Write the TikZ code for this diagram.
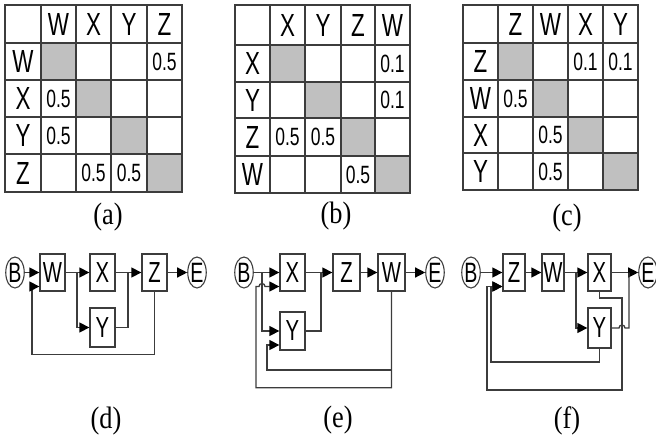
\documentclass[tikz,border=0pt]{standalone}
\usepackage{fontspec}
\setmainfont{Liberation Serif}
\newfontfamily\narrowsans[FakeStretch=0.7]{Liberation Sans}
\newfontfamily\capserif[FakeStretch=0.85]{Liberation Serif}
\usetikzlibrary{arrows.meta,shapes.geometric}
\definecolor{cellgray}{RGB}{192,192,192}
\definecolor{ink}{RGB}{60,60,60}
\begin{document}
\begin{tikzpicture}[x=1pt,y=-1pt,
  grid/.style={draw=ink,line width=1.3pt},
  hdr/.style={font=\narrowsans\fontsize{32}{32}\selectfont,inner sep=0pt},
  val/.style={font=\narrowsans\fontsize{25}{25}\selectfont,inner sep=0pt},
  figcap/.style={font=\capserif\fontsize{31}{31}\selectfont,inner sep=0pt},
  blk/.style={draw=ink,line width=1.3pt,rectangle,minimum width=25pt,
    minimum height=37pt,inner sep=0pt,font=\narrowsans\fontsize{29}{29}\selectfont},
  term/.style={draw=ink,line width=1.1pt,ellipse,minimum width=17pt,
    minimum height=31pt,inner sep=0pt,font=\narrowsans\fontsize{28}{28}\selectfont},
  wire/.style={draw=ink,line width=1.3pt},
  arr/.style={wire,-{Triangle[length=10pt,width=10pt,fill=black,color=black]}},
]
\useasboundingbox (0,0) rectangle (656,436);

% ---------- table (a) ----------
\foreach \xa/\ya/\xb/\yb in {41/43/76/80,76/80/111/117,111/117/147/154,147/154/182/192}
  \fill[cellgray] (\xa,\ya) rectangle (\xb,\yb);
\foreach \x in {41,76,111,147} \draw[grid] (\x,5) -- (\x,192);
\foreach \y in {43,80,117,154} \draw[grid] (5,\y) -- (182,\y);
\draw[grid] (5,5) rectangle (182,192);
\foreach \t/\cx [count=\i] in {W/58.5,X/93.5,Y/129,Z/164.5}
  \node[hdr] (ta-col\i) at (\cx,24) {\t};
\foreach \t/\cy [count=\i] in {W/61.5,X/98.5,Y/135.5,Z/173}
  \node[hdr] (ta-row\i) at (23,\cy) {\t};
\node[val] (ta-wz) at (164.5,61.5) {0.5};
\node[val] (ta-xw) at (58.5,98.5) {0.5};
\node[val] (ta-yw) at (58.5,135.5) {0.5};
\node[val] (ta-zx) at (93.5,173) {0.5};
\node[val] (ta-zy) at (129,173) {0.5};
\node[figcap] (cap-a) at (108,217) {(a)};

% ---------- table (b) ----------
\foreach \xa/\ya/\xb/\yb in {270/45/305/82,305/82/341/118,341/118/375/156,375/156/410/193}
  \fill[cellgray] (\xa,\ya) rectangle (\xb,\yb);
\foreach \x in {270,305,341,375} \draw[grid] (\x,5) -- (\x,193);
\foreach \y in {45,82,118,156} \draw[grid] (235,\y) -- (410,\y);
\draw[grid] (235,5) rectangle (410,193);
\foreach \t/\cx [count=\i] in {X/287.5,Y/323,Z/358,W/392.5}
  \node[hdr] (tb-col\i) at (\cx,25) {\t};
\foreach \t/\cy [count=\i] in {X/63.5,Y/100,Z/137,W/174.5}
  \node[hdr] (tb-row\i) at (252.5,\cy) {\t};
\node[val] (tb-xw) at (392.5,63.5) {0.1};
\node[val] (tb-yw) at (392.5,100) {0.1};
\node[val] (tb-zx) at (287.5,137) {0.5};
\node[val] (tb-zy) at (323,137) {0.5};
\node[val] (tb-wz) at (358,174.5) {0.5};
\node[figcap] (cap-b) at (336,216) {(b)};

% ---------- table (c) ----------
\foreach \xa/\ya/\xb/\yb in {498/43/533/80,533/80/568/117,568/117/603/153,603/153/638/190}
  \fill[cellgray] (\xa,\ya) rectangle (\xb,\yb);
\foreach \x in {498,533,568,603} \draw[grid] (\x,5) -- (\x,190);
\foreach \y in {43,80,117,153} \draw[grid] (463,\y) -- (638,\y);
\draw[grid] (463,5) rectangle (638,190);
\foreach \t/\cx [count=\i] in {Z/515.5,W/550.5,X/585.5,Y/620.5}
  \node[hdr] (tc-col\i) at (\cx,24) {\t};
\foreach \t/\cy [count=\i] in {Z/61.5,W/98.5,X/135,Y/171.5}
  \node[hdr] (tc-row\i) at (480.5,\cy) {\t};
\node[val] (tc-zx) at (585.5,61.5) {0.1};
\node[val] (tc-zy) at (620.5,61.5) {0.1};
\node[val] (tc-wz) at (515.5,98.5) {0.5};
\node[val] (tc-xw) at (550.5,135) {0.5};
\node[val] (tc-yw) at (550.5,171.5) {0.5};
\node[figcap] (cap-c) at (567,218) {(c)};

% ---------- flow (d) ----------
\node[term] (dB) at (15,272.5) {B};
\node[blk] (dW) at (52.5,272.5) {W};
\node[blk] (dX) at (102.5,272.5) {X};
\node[blk] (dZ) at (154.5,272.5) {Z};
\node[blk,minimum height=39pt] (dY) at (102.5,327.5) {Y};
\node[term] (dE) at (197,272.5) {E};
\coordinate (d1) at (77,272.5);
\coordinate (d2) at (128,272.5);
\draw[arr] (dB) -- (dW);
\draw[arr] (dW) -- (dX);
\draw[arr] (d1) |- (dY.west);
\draw[arr] (dX) -- (dZ);
\draw[wire] (dY.east) -| (d2);
\draw[arr] (dZ) -- (dE);
\draw[arr] (dZ.south) -- ++(0,63) -| (32,286.5) -- ([yshift=-14pt]dW.west);
\node[figcap] (cap-d) at (106,421) {(d)};

% ---------- flow (e) ----------
\node[term] (eB) at (244,272.5) {B};
\node[blk] (eX) at (292.5,272.5) {X};
\node[blk,minimum width=27pt] (eZ) at (346.5,272.5) {Z};
\node[blk,minimum width=27pt] (eW) at (391.5,272.5) {W};
\node[blk,minimum height=38pt] (eY) at (292.5,331) {Y};
\node[term] (eE) at (435,272.5) {E};
\coordinate (e1) at (262,272.5);
\coordinate (e2) at (321,272.5);
\coordinate (e3) at (391.5,370);
\draw[arr] (eB) -- (eX);
\draw[arr] (e1) |- (eY.west);
\draw[arr] (eX) -- (eZ);
\draw[wire] (eY.east) -| (e2);
\draw[arr] (eZ) -- (eW);
\draw[arr] (eW) -- (eE);
\draw[arr] (eW.south) -- ++(0,96) -| (256,286.5) -- (259,286.5)
  arc[start angle=180,end angle=360,radius=3] -- ([yshift=-14pt]eX.west);
\draw[arr] (e3) -| (267,345) -- ([yshift=-14pt]eY.west);
\node[figcap] (cap-e) at (338,420) {(e)};

% ---------- flow (f) ----------
\node[term] (fB) at (471,272.5) {B};
\node[blk,minimum width=22pt] (fZ) at (514,272.5) {Z};
\node[blk,minimum width=22pt] (fW) at (553,272.5) {W};
\node[blk,minimum width=23pt] (fX) at (599.5,272.5) {X};
\node[blk,minimum width=23pt,minimum height=40pt] (fY) at (599.5,328) {Y};
\node[term] (fE) at (648,272.5) {E};
\coordinate (f1) at (576,272.5);
\coordinate (f2) at (629,272.5);
\draw[arr] (fB) -- (fZ);
\draw[arr] (fZ) -- (fW);
\draw[arr] (fW) -- (fX);
\draw[arr] (f1) |- (fY.west);
\draw[arr] (fX) -- (fE);
\draw[wire] (fY.east) -- (619,328) arc[start angle=180,end angle=360,radius=3]
  -- (629,328) -- (f2);
\draw[arr] (fX.south) |- (622,298) |- (487,390) |- ([yshift=-14pt]fZ.west);
\draw[arr] (fY.south) |- (491,362) |- ([yshift=-14pt]fZ.west);
\node[figcap] (cap-f) at (567,421) {(f)};
\end{tikzpicture}
\end{document}
